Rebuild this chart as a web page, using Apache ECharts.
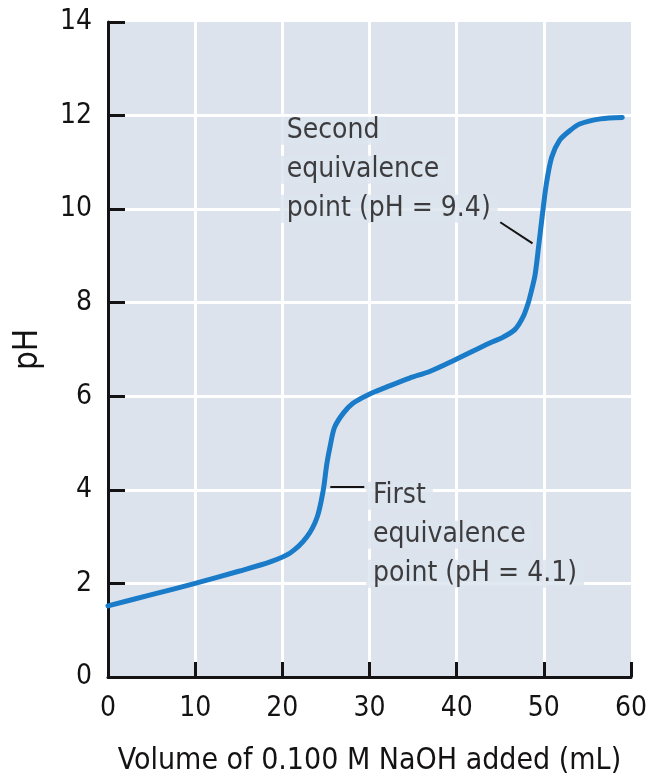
<!DOCTYPE html>
<html>
<head>
<meta charset="utf-8">
<script src="https://cdn.jsdelivr.net/npm/echarts@6/dist/echarts.min.js"></script>
<style>
html,body{margin:0;padding:0;background:#fff;}
#chart{width:653px;height:781px;}
</style>
</head>
<body>
<div id="chart"></div>
<script>
// ---- data ----
var volume = [0, 5, 10, 15, 18.6, 20.9, 22.8, 24.0, 24.7, 25.1, 25.5, 26.0, 27.0, 28.1, 29.8, 32.0, 34.6, 36.9, 39.6, 43.8, 45.3, 46.7, 47.6, 48.2, 48.6, 49.0, 49.4, 49.8, 50.3, 50.9, 51.8, 53.0, 54.1, 56.5, 59.0];
var pH =     [1.52, 1.76, 2.0, 2.26, 2.46, 2.65, 2.99, 3.42, 4.0, 4.55, 4.95, 5.34, 5.64, 5.85, 6.03, 6.2, 6.39, 6.53, 6.76, 7.14, 7.26, 7.43, 7.69, 7.99, 8.27, 8.6, 9.2, 9.83, 10.55, 11.11, 11.47, 11.68, 11.82, 11.93, 11.96];
var xTicks = [0, 10, 20, 30, 40, 50, 60];
var yTicks = [0, 2, 4, 6, 8, 10, 12, 14];
var xTitle = 'Volume of 0.100 M NaOH added (mL)';
var yTitle = 'pH';
var firstLabelLines = ['First', 'equivalence', 'point (pH = 4.1)'];
var secondLabelLines = ['Second', 'equivalence', 'point (pH = 9.4)'];
var firstLeader = [[25.5, 4.06], [29.4, 4.06]];
var secondLeader = [[45.0, 9.72], [48.7, 9.27]];
var firstLabelAnchor = [29.6, 4.29];
var secondLabelAnchor = [19.7, 12.09];

// ---- styling ----
var FONT = "'DejaVu Sans Condensed', 'Liberation Sans Narrow', sans-serif";
var INK = '#141213';
var PLOTBG = '#dce3ed';
var CURVE = '#1a7bc9';

function richLabel(lines) {
  return lines.map(function (s) { return '{t|' + s + '}'; }).join('\n');
}

var chart = echarts.init(document.getElementById('chart'), null, {renderer: 'canvas'});
var option = {
  animation: false,
  backgroundColor: '#ffffff',
  grid: {
    left: 108, right: 22, top: 22, bottom: 104,
    show: true, backgroundColor: PLOTBG, borderWidth: 0, containLabel: false
  },
  xAxis: {
    type: 'value', min: xTicks[0], max: xTicks[xTicks.length - 1], interval: 10,
    name: xTitle, nameLocation: 'middle', nameGap: 69,
    nameTextStyle: {fontFamily: FONT, fontSize: 30, color: INK},
    axisLine: {show: true, onZero: false, lineStyle: {color: INK, width: 3}},
    axisTick: {show: true, inside: true, length: 15, lineStyle: {color: INK, width: 3}},
    axisLabel: {fontFamily: FONT, fontSize: 28, color: INK, margin: 18},
    splitLine: {show: true, showMinLine: false, showMaxLine: false, lineStyle: {color: '#ffffff', width: 3}}
  },
  yAxis: {
    type: 'value', min: yTicks[0], max: yTicks[yTicks.length - 1], interval: 2,
    name: yTitle, nameLocation: 'middle', nameGap: 63, nameRotate: 90,
    nameTextStyle: {fontFamily: FONT, fontSize: 33, color: INK},
    axisLine: {show: true, onZero: false, lineStyle: {color: INK, width: 3}},
    axisTick: {show: true, inside: true, length: 17, lineStyle: {color: INK, width: 3}},
    axisLabel: {fontFamily: FONT, fontSize: 28, color: INK, margin: 16},
    splitLine: {show: true, showMinLine: false, showMaxLine: false, lineStyle: {color: '#ffffff', width: 3}}
  },
  series: [
    {
      type: 'scatter', symbolSize: 0, silent: true, z: 3,
      data: [firstLabelAnchor],
      label: {
        show: true, position: [0, 0], align: 'left', verticalAlign: 'top',
        formatter: richLabel(firstLabelLines),
        rich: {t: {fontFamily: FONT, fontSize: 28, color: INK, lineHeight: 39, backgroundColor: PLOTBG, padding: [0, 7, 0, 7]}}
      }
    },
    {
      type: 'scatter', symbolSize: 0, silent: true, z: 3,
      data: [secondLabelAnchor],
      label: {
        show: true, position: [0, 0], align: 'left', verticalAlign: 'top',
        formatter: richLabel(secondLabelLines),
        rich: {t: {fontFamily: FONT, fontSize: 28, color: INK, lineHeight: 39, backgroundColor: PLOTBG, padding: [0, 7, 0, 7]}}
      }
    },
    {
      type: 'line', data: firstLeader, symbol: 'none', silent: true, z: 4,
      lineStyle: {color: INK, width: 2}
    },
    {
      type: 'line', data: secondLeader, symbol: 'none', silent: true, z: 4,
      lineStyle: {color: INK, width: 2}
    },
    {
      type: 'line', z: 5, symbol: 'none', smooth: 0.3,
      data: volume.map(function (v, i) { return [v, pH[i]]; }),
      lineStyle: {color: CURVE, width: 5, cap: 'round', join: 'round'}
    }
  ]
};
chart.setOption(option);
</script>
</body>
</html>
